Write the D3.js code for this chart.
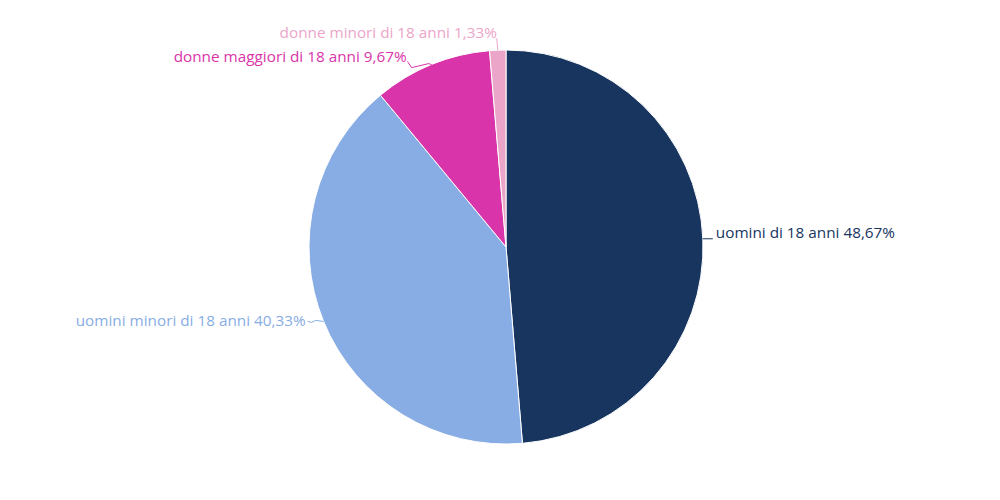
<!DOCTYPE html>
<html><head><meta charset="utf-8">
<script src="https://cdn.jsdelivr.net/npm/d3@7"></script>
<style>body{margin:0;background:#fff}svg{display:block}text{font-family:"Open Sans",sans-serif;font-size:15.3px}</style>
</head><body>
<svg id="c" width="1000" height="500"></svg>
<script>
const categories = ["uomini di 18 anni", "uomini minori di 18 anni", "donne maggiori di 18 anni", "donne minori di 18 anni"];
const values = [48.67, 40.33, 9.67, 1.33];
const labels = ["48,67%", "40,33%", "9,67%", "1,33%"];
const colors = ["#17355f", "#88ade4", "#d934a9", "#eba5c9"];

const cx = 506, cy = 247, R = 197;
const svg = d3.select("#c");
const g = svg.append("g").attr("transform", `translate(${cx},${cy})`);
const pie = d3.pie().sort(null).value(d => d)(values);
const arc = d3.arc().innerRadius(0).outerRadius(R);
g.selectAll("path.s").data(pie).join("path").attr("class","s")
  .attr("d", arc).attr("fill", (d,i)=>colors[i]).attr("stroke","#fff").attr("stroke-width",1);

// label layout: connector offsets relative to the edge point
const layout = [
  {pts:[[0,0],[10,0]], tx:13, ty:-6, anchor:"start"},
  {pts:[[0,0],[-8,-1],[-12,1],[-16,0]], tx:-18, ty:-1, anchor:"end"},
  {pts:[[0,0],[-3,-1],[-20,3],[-24,-3]], tx:-25, ty:-8, anchor:"end"},
  {pts:[[0,0],[-1,-12]], tx:-1, ty:-18, anchor:"end"}
];
pie.forEach((d,i)=>{
  const a = (d.startAngle + d.endAngle)/2;
  const ex = Math.sin(a)*R, ey = -Math.cos(a)*R;
  const L = layout[i];
  g.append("path").attr("d", d3.line()(L.pts.map(p=>[ex+p[0], ey+p[1]])))
    .attr("fill","none").attr("stroke", colors[i]).attr("stroke-width",1);
  g.append("text").attr("x", ex+L.tx).attr("y", ey+L.ty).attr("dy","0.35em")
    .attr("text-anchor", L.anchor).attr("fill", colors[i])
    .text(categories[i] + " " + labels[i]);
});
</script>
</body></html>
